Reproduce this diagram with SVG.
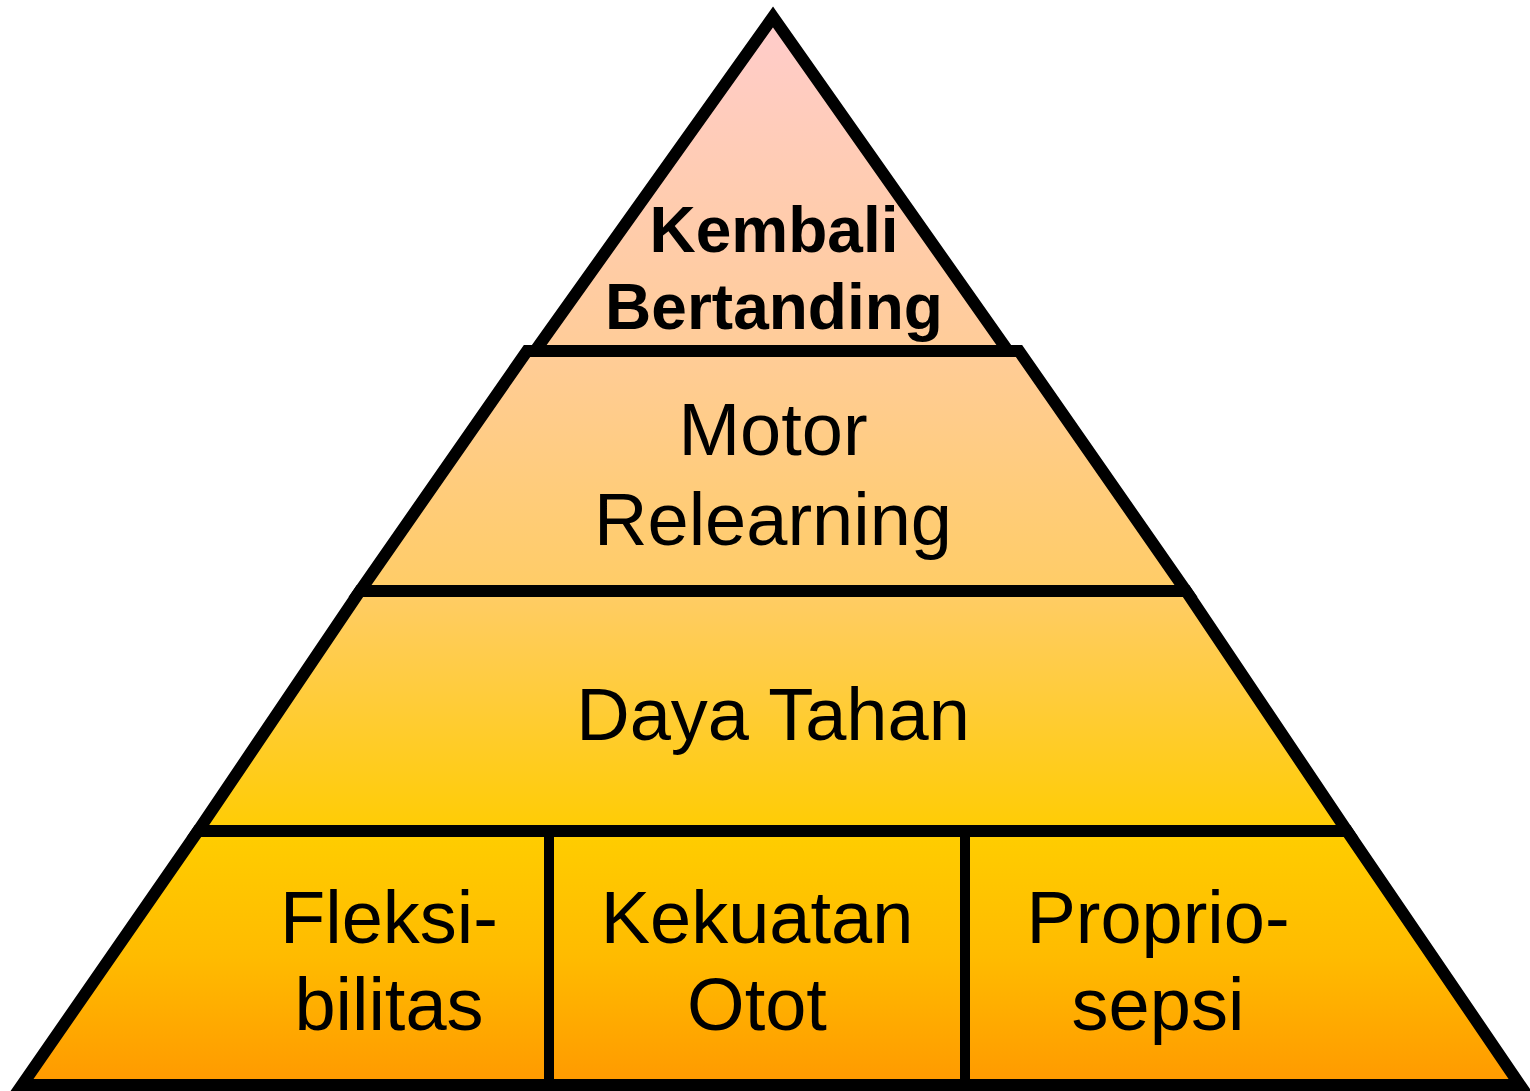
<svg xmlns="http://www.w3.org/2000/svg" width="1530" height="1091" viewBox="0 0 1530 1091">
<defs>
<linearGradient id="g" gradientUnits="userSpaceOnUse" x1="0" y1="12" x2="0" y2="1086">
<stop offset="0" stop-color="#FFCCCC"/>
<stop offset="0.31" stop-color="#FFCC99"/>
<stop offset="0.54" stop-color="#FFCC66"/>
<stop offset="0.77" stop-color="#FFCC00"/>
<stop offset="0.88" stop-color="#FFBB00"/>
<stop offset="1" stop-color="#FF9900"/>
</linearGradient>
</defs>
<style>
.l{fill:url(#g);stroke:#000;stroke-width:12;stroke-linejoin:miter;stroke-miterlimit:10}
.d{stroke:#000;stroke-width:10;fill:none}
text{font-family:"Liberation Sans",Arial,sans-serif;fill:#000;text-anchor:middle}
.t{font-size:74px}
.b{font-size:64px;font-weight:bold}
</style>
<g id="layer4">
<polygon class="l" points="198,831 1347,831 1520,1085 22,1085"/>
</g>
<g id="layer3">
<polygon class="l" points="360,591 1186,591 1347,831 198,831"/>
</g>
<g id="layer2">
<polygon class="l" points="527,351 1019,351 1186,591 360,591"/>
</g>
<g id="layer1">
<polygon class="l" points="773,17 1008,351 535,351"/>
</g>
<g id="connectors">
<line class="d" x1="549" y1="834" x2="549" y2="1082"/>
<line class="d" x1="965" y1="834" x2="965" y2="1082"/>
</g>
<g id="t1"><text class="b" x="774" y="252">Kembali</text><text class="b" x="774" y="329">Bertanding</text></g>
<g id="t2"><text class="t" x="773" y="455">Motor</text><text class="t" x="773" y="545">Relearning</text></g>
<g id="t3"><text class="t" x="773" y="740">Daya Tahan</text></g>
<g id="t4a"><text class="t" x="389" y="943">Fleksi-</text><text class="t" x="389" y="1030">bilitas</text></g>
<g id="t4b"><text class="t" x="757" y="943">Kekuatan</text><text class="t" x="757" y="1030">Otot</text></g>
<g id="t4c"><text class="t" x="1158" y="943">Proprio-</text><text class="t" x="1158" y="1030">sepsi</text></g>
</svg>
